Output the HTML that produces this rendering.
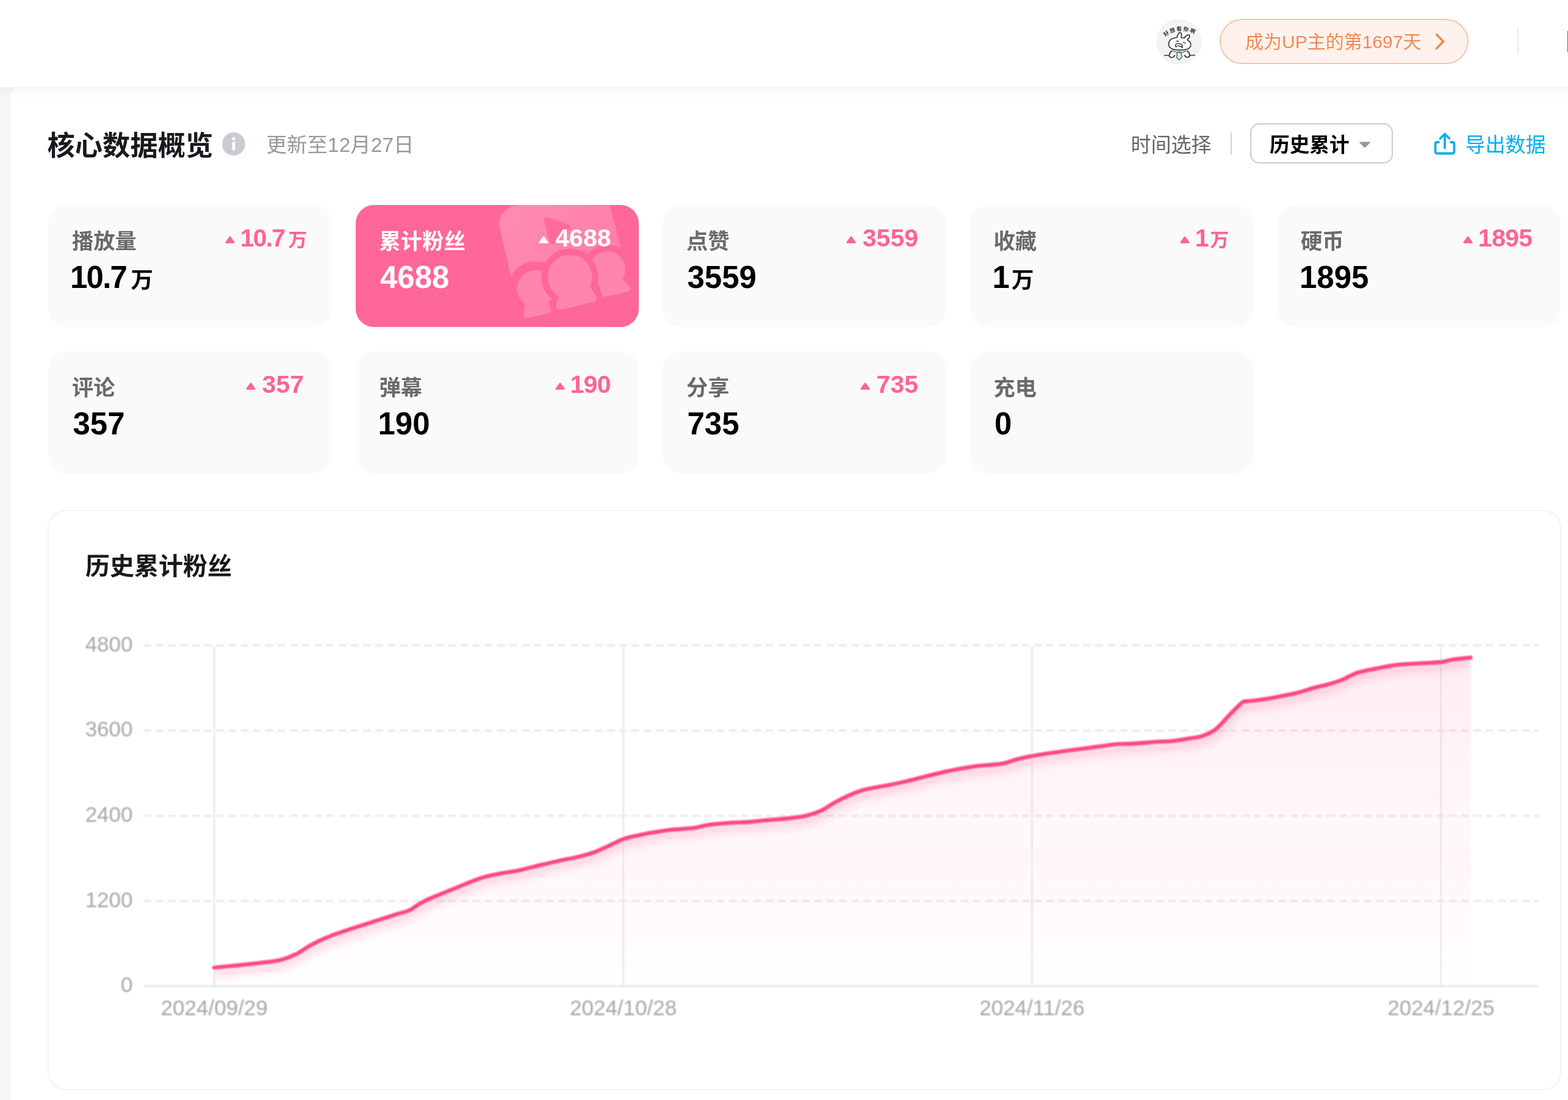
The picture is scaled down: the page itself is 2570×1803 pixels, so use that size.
<!DOCTYPE html>
<html lang="zh-CN"><head><meta charset="utf-8"><title>核心数据概览</title>
<style>
*{margin:0;padding:0;box-sizing:border-box}
html,body{width:2570px;height:1803px;overflow:hidden;background:#f6f7f8}
body{position:relative;font-family:"Liberation Sans","Noto Sans CJK SC",sans-serif;-webkit-font-smoothing:antialiased}
.abs{position:absolute}
#hdr{position:absolute;left:0;top:0;width:2570px;height:143px;background:#fff}
#main{position:absolute;left:18px;top:143px;width:2552px;height:1660px;background:#fff;border-top-left-radius:12px}
#shadow{position:absolute;left:0;top:143px;width:2570px;height:24px;background:linear-gradient(to bottom,rgba(0,0,0,0.035),rgba(0,0,0,0.012) 45%,rgba(0,0,0,0))}
.t{position:absolute;white-space:nowrap;line-height:1}
#pill{position:absolute;left:1999px;top:31px;width:408px;height:74px;border:2.5px solid #f6c2ad;border-radius:37px;background:#fff2ed}
.card{position:absolute;width:464.5px;height:200px;border-radius:30px;background:#fafafa;overflow:hidden}
.card.act{background:#ff6699}
.card .deco{position:absolute;left:0;top:0}
.card .lab{position:absolute;left:39px;top:39.6px;font-size:35.3px;line-height:40px;font-weight:bold;color:#6a6a6a;white-space:nowrap}
.card .val{position:absolute;left:37px;top:88.5px;line-height:60px;white-space:nowrap;color:#000;font-weight:bold}
.card .vn{font-size:51px}
.card .u{font-size:36.5px;margin-left:3px;position:relative;top:0.5px}
.card .inc{position:absolute;right:41px;top:32px;line-height:44px;white-space:nowrap;color:#ff6297;font-weight:bold}
.card .in{font-size:41px}
.card .iu{font-size:31px;margin-left:3px;position:relative;top:-0.5px}
.card .tri{display:inline-block;vertical-align:5px;overflow:visible}
.card.act .lab,.card.act .val,.card.act .inc{color:#fff}

#chart{position:absolute;left:78px;top:835.5px;width:2481px;height:951.5px;border:2.5px solid #f1f2f3;border-radius:30px;background:#fff}
svg text.ax{font-family:"Liberation Sans",sans-serif;font-size:35px;fill:#a6a6a6}
</style></head><body>
<div id="hdr"></div>
<div id="main"></div>
<div id="shadow"></div>

<svg class="abs" style="left:1894px;top:30px" width="77" height="77" viewBox="0 0 77 77">
<defs><filter id="avb" x="-10%" y="-10%" width="120%" height="120%"><feGaussianBlur stdDeviation="0.45"/></filter></defs>
<circle cx="38.3" cy="38.5" r="37.3" fill="#f3f3f3"/>
<g filter="url(#avb)">
<path id="arc" d="M14 31.5 Q38 11.5 67 27.5" fill="none"/>
<text font-size="8.8" font-weight="bold" fill="#2b2b2b" font-family='Liberation Sans, Noto Sans CJK SC, sans-serif' letter-spacing="1.8"><textPath href="#arc" startOffset="50%" text-anchor="middle">好想看你啊</textPath></text>
<g fill="none" stroke="#333" stroke-width="1.7" stroke-linecap="round" stroke-linejoin="round">
<path d="M21.5 43 C21 36 27 32.5 35 31.5 C36 27 38.5 22.5 41 23.5 C43.5 24.5 42.5 29 42 31.5 C43.5 32 45.5 32.3 47 32.5 C49 29.5 53.5 26 55.3 27.5 C57 29.5 54 33.5 52 35.5 C57 38 58.5 42 57.5 45.5 C56 50.5 50 52 40 52 C29 52 22 50 21.5 43Z" fill="#fff"/>
<path d="M34.5 37.2 L38 37.6 M45.5 39.3 L49 40.8" stroke-width="1.4"/>
<path d="M32.5 45.5 C32.3 41.5 36 40.5 38.6 42.2 C40.5 41 43.8 42 44.2 46.5 C44.3 48.5 43 49 42.5 47.3 C42 45.2 40.6 44.7 39.6 46.3 C38.5 44.6 36 44.3 34.6 46.3 C33.6 47.3 32.6 47 32.5 45.5Z" stroke-width="1.4"/>
<path d="M27 53 C23.5 55.5 21.5 60 23 63 C26 65.5 30.5 64 31.5 60.5 M52 53.5 C55 56 56.5 59.5 55.5 62.5 C52.5 65 48.5 63.5 47.5 60.5"/>
<path d="M14.5 60.8 L22 60.8 M56.5 60.8 L64.5 60.5" stroke-width="1.4"/>
</g>
<path d="M35.5 55.8 L41.5 55.8 L43 64 L38.5 68.2 L34.5 64Z" fill="#dcf1e7" stroke="#4c6b5c" stroke-width="1.5" stroke-linejoin="round"/>
<path d="M29 53.3 L36 56.3 L38.5 54.3 M50 53.5 L42.5 56.5 L39 54.3" fill="none" stroke="#5b7b6b" stroke-width="1.5" stroke-linejoin="round" stroke-linecap="round"/>
</g>
</svg>

<div id="pill"></div>
<div class="t" id="pilltxt" style="left:2041px;top:52px;font-size:30px;line-height:34px;color:#f08a58">成为UP主的第1697天</div>
<svg class="abs" style="left:2345px;top:48px" width="30" height="40" viewBox="0 0 30 40"><path d="M8.5 7.5 L20.5 20 L8.5 32.5" fill="none" stroke="#ee8853" stroke-width="3.6" stroke-linejoin="miter"/></svg>
<div class="abs" style="left:2487px;top:46px;width:2px;height:43px;background:#e9eaec"></div>
<div class="abs" style="left:2568.5px;top:50px;width:2px;height:36px;background:#666;border-radius:2px 0 0 2px"></div>

<div class="t" id="title" style="left:77.5px;top:212.5px;font-size:45.3px;line-height:54px;font-weight:bold;color:#18191c">核心数据概览</div>
<svg class="abs" style="left:363px;top:216px" width="40" height="40" viewBox="0 0 40 40"><circle cx="20" cy="20" r="19" fill="#c9ccd0"/><circle cx="20" cy="11.5" r="2.7" fill="#fff"/><rect x="17.6" y="16.5" width="4.8" height="14" rx="1.2" fill="#fff"/></svg>
<div class="t" id="upd" style="left:436.5px;top:217.5px;font-size:33.5px;line-height:40px;color:#9499a0">更新至12月27日</div>

<div class="t" id="tsel" style="left:1853.5px;top:217.5px;font-size:33px;line-height:40px;color:#61666d">时间选择</div>
<div class="abs" style="left:2017.3px;top:217px;width:2px;height:37px;background:#d3d5d9"></div>
<div class="abs" style="left:2048.7px;top:201.8px;width:234.3px;height:66.7px;border:2.5px solid #c9ccd0;border-radius:15px;background:#fff"></div>
<div class="t" id="sel" style="left:2081px;top:218px;font-size:32.7px;line-height:40px;font-weight:bold;color:#000">历史累计</div>
<svg class="abs" style="left:2226px;top:229px" width="22" height="16" viewBox="0 0 22 16"><path d="M3 3.5 L19 3.5 Q20.5 3.5 19.5 5 L12.3 12.3 Q11 13.6 9.7 12.3 L2.5 5 Q1.5 3.5 3 3.5Z" fill="#9499a0"/></svg>
<svg class="abs" style="left:2347px;top:213.8px" width="42" height="44" viewBox="0 0 42 44"><g fill="none" stroke="#0fade9" stroke-width="3.8" stroke-linecap="round" stroke-linejoin="round"><path d="M11 19 L9 19 Q5.5 19 5.5 22.5 L5.5 34 Q5.5 37.5 9 37.5 L33 37.5 Q36.5 37.5 36.5 34 L36.5 22.5 Q36.5 19 33 19 L31 19"/><path d="M21 28.5 L21 6.5 M13.5 13 L21 5.5 L28.5 13"/></g></svg>
<div class="t" id="exp" style="left:2401.5px;top:218px;font-size:33px;line-height:40px;color:#00aeec">导出数据</div>

<div class="card" style="left:79.0px;top:336px"><div class="lab">播放量</div><div class="val" style="left:36.0px"><span class="vn" style="letter-spacing:-1.8px">10.7</span><span class="u" style="margin-left:7.5px">万</span></div><div class="inc" style="right:40.0px"><svg class="tri" style="margin-right:8.7px" width="16" height="12" viewBox="0 0 16 12"><path d="M8 1.5 L14.4 10.5 L1.6 10.5Z" fill="currentColor" stroke="currentColor" stroke-width="2.6" stroke-linejoin="round"/></svg><span class="in" style="letter-spacing:-1.83px">10.7</span><span class="iu" style="margin-left:6.3px">万</span></div></div>
<div class="card act" style="left:582.5px;top:336px"><svg class="deco" width="465" height="200" viewBox="0 0 465 200">
<defs><linearGradient id="dg" x1="240" y1="0" x2="430" y2="110" gradientUnits="userSpaceOnUse"><stop offset="0" stop-color="#ff8ab0"/><stop offset="1" stop-color="#ff7fa9"/></linearGradient></defs>
<path d="M254 116 L236.5 40 Q230 9 263 0 L416 0 L434 66 L415 100 L351 113 L290 136Z" fill="url(#dg)"/>
<path d="M315 20.5 L348 32 Q354.5 35 350.5 40.5 L326 63 Q320 67 318 60 L309 27 Q307.5 18.5 315 20.5Z" fill="#ff6a9c"/>
<g fill="#ff6699" stroke="#ff6699" stroke-width="26" stroke-linejoin="round"><circle cx="294.9" cy="137.2" r="32"/><path d="M278 163 L275.5 176 Q274.5 186 283 185 L316 177 Q322 175 321 169 L315 158Z"/></g>
<g fill="#ff85ad"><circle cx="294.9" cy="137.2" r="30.5"/><path d="M278 161 L275.5 176 Q274.5 187 283 185.3 L316 177 Q322 175 321 169 L315 158Z"/></g>
<g fill="#ff6699" stroke="#ff6699" stroke-width="18" stroke-linejoin="round"><circle cx="412" cy="105.8" r="31.5"/></g>
<g fill="#ff85ad"><circle cx="412" cy="105.8" r="29.8"/><path d="M400 130 L401 145 Q402 152 409 150.8 L446 142 Q452.5 140 450 135.5 L438.5 122Z"/></g>
<g fill="#ff6699" stroke="#ff6699" stroke-width="20" stroke-linejoin="round"><circle cx="351" cy="118" r="36.5"/><path d="M333 150 L328.8 162 Q327 172.5 336 172 L390 159 Q397 156.5 395 150.5 L385 136Z"/></g>
<g fill="#ff85ad"><circle cx="351" cy="118" r="36.5"/><path d="M333 150 L328.8 162 Q327 172.5 336 172 L390 159 Q397 156.5 395 150.5 L385 136Z"/></g>
</svg><div class="lab">累计粉丝</div><div class="val" style="left:40.5px"><span class="vn" style="letter-spacing:0.0px">4688</span></div><div class="inc" style="right:45.5px"><svg class="tri" style="margin-right:11.0px" width="16" height="12" viewBox="0 0 16 12"><path d="M8 1.5 L14.4 10.5 L1.6 10.5Z" fill="currentColor" stroke="currentColor" stroke-width="2.6" stroke-linejoin="round"/></svg><span class="in" style="letter-spacing:0.00px">4688</span></div></div>
<div class="card" style="left:1086.0px;top:336px"><div class="lab">点赞</div><div class="val" style="left:40.5px"><span class="vn" style="letter-spacing:0.0px">3559</span></div><div class="inc" style="right:45.5px"><svg class="tri" style="margin-right:11.0px" width="16" height="12" viewBox="0 0 16 12"><path d="M8 1.5 L14.4 10.5 L1.6 10.5Z" fill="currentColor" stroke="currentColor" stroke-width="2.6" stroke-linejoin="round"/></svg><span class="in" style="letter-spacing:0.00px">3559</span></div></div>
<div class="card" style="left:1589.5px;top:336px"><div class="lab">收藏</div><div class="val" style="left:37.0px"><span class="vn" style="letter-spacing:0.0px">1</span><span class="u">万</span></div><div class="inc" style="right:39.7px"><svg class="tri" style="margin-right:8.4px" width="16" height="12" viewBox="0 0 16 12"><path d="M8 1.5 L14.4 10.5 L1.6 10.5Z" fill="currentColor" stroke="currentColor" stroke-width="2.6" stroke-linejoin="round"/></svg><span class="in" style="letter-spacing:0.00px">1</span><span class="iu" style="margin-left:1.7px">万</span></div></div>
<div class="card" style="left:2093.0px;top:336px"><div class="lab">硬币</div><div class="val" style="left:37.0px"><span class="vn" style="letter-spacing:0.0px">1895</span></div><div class="inc" style="right:46.0px"><svg class="tri" style="margin-right:8.5px" width="16" height="12" viewBox="0 0 16 12"><path d="M8 1.5 L14.4 10.5 L1.6 10.5Z" fill="currentColor" stroke="currentColor" stroke-width="2.6" stroke-linejoin="round"/></svg><span class="in" style="letter-spacing:-0.60px">1895</span></div></div>
<div class="card" style="left:79.0px;top:576px"><div class="lab">评论</div><div class="val" style="left:40.5px"><span class="vn" style="letter-spacing:0.0px">357</span></div><div class="inc" style="right:45.5px"><svg class="tri" style="margin-right:11.0px" width="16" height="12" viewBox="0 0 16 12"><path d="M8 1.5 L14.4 10.5 L1.6 10.5Z" fill="currentColor" stroke="currentColor" stroke-width="2.6" stroke-linejoin="round"/></svg><span class="in" style="letter-spacing:0.00px">357</span></div></div>
<div class="card" style="left:582.5px;top:576px"><div class="lab">弹幕</div><div class="val" style="left:37.0px"><span class="vn" style="letter-spacing:0.0px">190</span></div><div class="inc" style="right:46.0px"><svg class="tri" style="margin-right:8.5px" width="16" height="12" viewBox="0 0 16 12"><path d="M8 1.5 L14.4 10.5 L1.6 10.5Z" fill="currentColor" stroke="currentColor" stroke-width="2.6" stroke-linejoin="round"/></svg><span class="in" style="letter-spacing:-0.60px">190</span></div></div>
<div class="card" style="left:1086.0px;top:576px"><div class="lab">分享</div><div class="val" style="left:40.5px"><span class="vn" style="letter-spacing:0.0px">735</span></div><div class="inc" style="right:45.5px"><svg class="tri" style="margin-right:11.0px" width="16" height="12" viewBox="0 0 16 12"><path d="M8 1.5 L14.4 10.5 L1.6 10.5Z" fill="currentColor" stroke="currentColor" stroke-width="2.6" stroke-linejoin="round"/></svg><span class="in" style="letter-spacing:0.00px">735</span></div></div>
<div class="card" style="left:1589.5px;top:576px"><div class="lab">充电</div><div class="val" style="left:40.5px"><span class="vn" style="letter-spacing:0.0px">0</span></div></div>


<div id="chart"></div>
<div class="t" id="ctitle" style="left:140px;top:904px;font-size:40px;line-height:48px;font-weight:bold;color:#18191c">历史累计粉丝</div>
<svg class="abs" style="left:0;top:0" width="2570" height="1803" viewBox="0 0 2570 1803">
<defs>
<linearGradient id="ag" x1="0" y1="1060" x2="0" y2="1616" gradientUnits="userSpaceOnUse"><stop offset="0" stop-color="#ff4785" stop-opacity="0.095"/><stop offset="1" stop-color="#ff4785" stop-opacity="0.0"/></linearGradient>
<filter id="bl" x="-5%" y="-20%" width="110%" height="140%"><feGaussianBlur stdDeviation="7"/></filter>
<filter id="soft" x="-5%" y="-5%" width="110%" height="110%"><feGaussianBlur stdDeviation="0.9"/></filter>
<filter id="soft2" filterUnits="userSpaceOnUse" x="200" y="1040" width="2360" height="460"><feGaussianBlur stdDeviation="1.3"/></filter>
<clipPath id="ac"><path d="M351.0 1586.0C358.1 1585.3 376.2 1583.7 391.5 1582.1C406.8 1580.5 426.2 1578.4 438.5 1576.8C450.8 1575.2 453.8 1575.2 462.0 1572.9C470.2 1570.6 477.3 1567.9 485.5 1563.8C493.7 1559.7 500.3 1554.1 509.0 1549.4C517.7 1544.7 526.0 1540.7 535.2 1536.8C544.4 1532.9 547.6 1531.9 561.3 1527.2C575.0 1522.5 597.6 1515.4 613.6 1510.2C629.6 1505.0 642.8 1500.9 652.8 1497.7C662.8 1494.5 663.2 1495.7 671.0 1491.9C678.8 1488.1 684.4 1482.4 697.2 1476.2C710.0 1470.0 728.2 1463.1 744.2 1456.6C760.2 1450.1 774.9 1443.5 788.6 1439.1C802.3 1434.7 814.4 1433.0 822.6 1431.3C830.8 1429.6 830.9 1430.0 835.7 1429.2C840.5 1428.4 842.0 1428.6 850.0 1426.8C858.0 1425.0 870.0 1421.7 881.4 1419.0C892.8 1416.3 903.9 1413.6 915.3 1411.1C926.7 1408.6 936.2 1407.2 946.7 1404.6C957.2 1402.0 966.7 1399.4 975.4 1396.3C984.1 1393.2 988.2 1390.8 996.3 1387.1C1004.4 1383.4 1013.0 1378.4 1021.7 1375.3C1030.4 1372.2 1037.2 1371.3 1046.0 1369.3C1054.8 1367.3 1062.9 1365.7 1072.0 1364.1C1081.1 1362.5 1086.8 1361.4 1098.2 1360.2C1109.6 1359.0 1126.9 1358.5 1137.4 1357.1C1147.9 1355.7 1149.1 1353.8 1158.3 1352.4C1167.5 1351.0 1177.3 1350.1 1189.7 1349.2C1202.1 1348.3 1217.5 1347.9 1228.9 1347.1C1240.3 1346.3 1243.6 1345.5 1255.0 1344.5C1266.4 1343.5 1282.8 1342.4 1294.2 1341.1C1305.6 1339.8 1311.6 1339.2 1320.3 1337.2C1329.0 1335.2 1335.7 1333.3 1343.9 1329.6C1352.1 1325.9 1359.2 1320.3 1367.4 1315.8C1375.6 1311.3 1382.2 1307.8 1390.9 1304.0C1399.6 1300.2 1406.3 1297.2 1417.0 1294.3C1427.7 1291.4 1440.6 1289.9 1452.3 1287.6C1464.0 1285.3 1472.2 1283.7 1483.6 1281.1C1495.0 1278.5 1504.8 1275.6 1517.6 1272.5C1530.4 1269.4 1543.1 1266.1 1556.8 1263.3C1570.5 1260.5 1584.6 1258.0 1596.0 1256.3C1607.4 1254.6 1613.9 1254.5 1622.1 1253.7C1630.3 1252.9 1634.8 1253.3 1643.0 1251.6C1651.2 1249.9 1660.6 1246.2 1669.1 1244.0C1677.6 1241.8 1683.6 1240.8 1691.4 1239.3C1699.2 1237.8 1700.6 1237.3 1713.6 1235.4C1726.6 1233.5 1749.8 1230.5 1765.8 1228.3C1781.8 1226.1 1794.0 1224.6 1805.0 1223.1C1816.0 1221.6 1819.3 1220.4 1828.5 1219.7C1837.7 1219.0 1845.4 1219.6 1857.3 1218.9C1869.2 1218.2 1885.1 1216.6 1896.5 1215.8C1907.9 1215.0 1913.5 1215.4 1922.6 1214.5C1931.7 1213.6 1940.5 1211.9 1948.7 1210.5C1956.9 1209.1 1962.0 1209.2 1969.6 1206.6C1977.2 1204.0 1984.0 1201.8 1991.9 1195.8C1999.8 1189.8 2008.0 1179.3 2014.8 1172.3C2021.6 1165.3 2027.0 1159.8 2031.0 1156.0C2035.0 1152.2 2035.2 1151.6 2037.5 1150.4C2039.8 1149.2 2040.4 1149.8 2044.0 1149.4C2047.6 1149.0 2050.8 1149.0 2058.0 1148.0C2065.2 1147.0 2073.2 1146.0 2085.0 1143.9C2096.8 1141.8 2113.7 1138.6 2125.5 1135.8C2137.3 1133.0 2143.1 1130.3 2152.5 1127.7C2161.9 1125.1 2171.0 1123.5 2179.5 1121.0C2188.0 1118.5 2193.5 1116.8 2201.1 1113.7C2208.7 1110.6 2214.7 1106.2 2222.7 1103.4C2230.7 1100.6 2235.6 1099.9 2247.0 1097.5C2258.4 1095.1 2273.4 1091.7 2287.6 1089.9C2301.8 1088.1 2315.0 1088.0 2328.0 1087.2C2341.0 1086.4 2352.4 1086.2 2361.8 1085.1C2371.2 1084.0 2373.5 1082.3 2382.0 1081.0C2390.5 1079.7 2405.4 1078.4 2410.4 1077.8L2410.4 1616L351.0 1616Z"/></clipPath>
</defs>
<g filter="url(#soft2)">
<line x1="235" x2="2522" y1="1057.8" y2="1057.8" stroke="#e7e7e7" stroke-width="3" stroke-dasharray="12.5 7.5"/><line x1="235" x2="2522" y1="1197.5" y2="1197.5" stroke="#e7e7e7" stroke-width="3" stroke-dasharray="12.5 7.5"/><line x1="235" x2="2522" y1="1337.2" y2="1337.2" stroke="#e7e7e7" stroke-width="3" stroke-dasharray="12.5 7.5"/><line x1="235" x2="2522" y1="1476.8" y2="1476.8" stroke="#e7e7e7" stroke-width="3" stroke-dasharray="12.5 7.5"/>
</g>
<g filter="url(#soft)">
<line x1="351.2" x2="351.2" y1="1059" y2="1616" stroke="#e6e6e6" stroke-width="2.5"/><line x1="1021.6" x2="1021.6" y1="1059" y2="1616" stroke="#e6e6e6" stroke-width="2.5"/><line x1="1691.5" x2="1691.5" y1="1059" y2="1616" stroke="#e6e6e6" stroke-width="2.5"/><line x1="2361.8" x2="2361.8" y1="1059" y2="1616" stroke="#e6e6e6" stroke-width="2.5"/>
<line x1="237" x2="2522" y1="1616.2" y2="1616.2" stroke="#e0e0e0" stroke-width="2.5"/>
<path d="M351.0 1586.0C358.1 1585.3 376.2 1583.7 391.5 1582.1C406.8 1580.5 426.2 1578.4 438.5 1576.8C450.8 1575.2 453.8 1575.2 462.0 1572.9C470.2 1570.6 477.3 1567.9 485.5 1563.8C493.7 1559.7 500.3 1554.1 509.0 1549.4C517.7 1544.7 526.0 1540.7 535.2 1536.8C544.4 1532.9 547.6 1531.9 561.3 1527.2C575.0 1522.5 597.6 1515.4 613.6 1510.2C629.6 1505.0 642.8 1500.9 652.8 1497.7C662.8 1494.5 663.2 1495.7 671.0 1491.9C678.8 1488.1 684.4 1482.4 697.2 1476.2C710.0 1470.0 728.2 1463.1 744.2 1456.6C760.2 1450.1 774.9 1443.5 788.6 1439.1C802.3 1434.7 814.4 1433.0 822.6 1431.3C830.8 1429.6 830.9 1430.0 835.7 1429.2C840.5 1428.4 842.0 1428.6 850.0 1426.8C858.0 1425.0 870.0 1421.7 881.4 1419.0C892.8 1416.3 903.9 1413.6 915.3 1411.1C926.7 1408.6 936.2 1407.2 946.7 1404.6C957.2 1402.0 966.7 1399.4 975.4 1396.3C984.1 1393.2 988.2 1390.8 996.3 1387.1C1004.4 1383.4 1013.0 1378.4 1021.7 1375.3C1030.4 1372.2 1037.2 1371.3 1046.0 1369.3C1054.8 1367.3 1062.9 1365.7 1072.0 1364.1C1081.1 1362.5 1086.8 1361.4 1098.2 1360.2C1109.6 1359.0 1126.9 1358.5 1137.4 1357.1C1147.9 1355.7 1149.1 1353.8 1158.3 1352.4C1167.5 1351.0 1177.3 1350.1 1189.7 1349.2C1202.1 1348.3 1217.5 1347.9 1228.9 1347.1C1240.3 1346.3 1243.6 1345.5 1255.0 1344.5C1266.4 1343.5 1282.8 1342.4 1294.2 1341.1C1305.6 1339.8 1311.6 1339.2 1320.3 1337.2C1329.0 1335.2 1335.7 1333.3 1343.9 1329.6C1352.1 1325.9 1359.2 1320.3 1367.4 1315.8C1375.6 1311.3 1382.2 1307.8 1390.9 1304.0C1399.6 1300.2 1406.3 1297.2 1417.0 1294.3C1427.7 1291.4 1440.6 1289.9 1452.3 1287.6C1464.0 1285.3 1472.2 1283.7 1483.6 1281.1C1495.0 1278.5 1504.8 1275.6 1517.6 1272.5C1530.4 1269.4 1543.1 1266.1 1556.8 1263.3C1570.5 1260.5 1584.6 1258.0 1596.0 1256.3C1607.4 1254.6 1613.9 1254.5 1622.1 1253.7C1630.3 1252.9 1634.8 1253.3 1643.0 1251.6C1651.2 1249.9 1660.6 1246.2 1669.1 1244.0C1677.6 1241.8 1683.6 1240.8 1691.4 1239.3C1699.2 1237.8 1700.6 1237.3 1713.6 1235.4C1726.6 1233.5 1749.8 1230.5 1765.8 1228.3C1781.8 1226.1 1794.0 1224.6 1805.0 1223.1C1816.0 1221.6 1819.3 1220.4 1828.5 1219.7C1837.7 1219.0 1845.4 1219.6 1857.3 1218.9C1869.2 1218.2 1885.1 1216.6 1896.5 1215.8C1907.9 1215.0 1913.5 1215.4 1922.6 1214.5C1931.7 1213.6 1940.5 1211.9 1948.7 1210.5C1956.9 1209.1 1962.0 1209.2 1969.6 1206.6C1977.2 1204.0 1984.0 1201.8 1991.9 1195.8C1999.8 1189.8 2008.0 1179.3 2014.8 1172.3C2021.6 1165.3 2027.0 1159.8 2031.0 1156.0C2035.0 1152.2 2035.2 1151.6 2037.5 1150.4C2039.8 1149.2 2040.4 1149.8 2044.0 1149.4C2047.6 1149.0 2050.8 1149.0 2058.0 1148.0C2065.2 1147.0 2073.2 1146.0 2085.0 1143.9C2096.8 1141.8 2113.7 1138.6 2125.5 1135.8C2137.3 1133.0 2143.1 1130.3 2152.5 1127.7C2161.9 1125.1 2171.0 1123.5 2179.5 1121.0C2188.0 1118.5 2193.5 1116.8 2201.1 1113.7C2208.7 1110.6 2214.7 1106.2 2222.7 1103.4C2230.7 1100.6 2235.6 1099.9 2247.0 1097.5C2258.4 1095.1 2273.4 1091.7 2287.6 1089.9C2301.8 1088.1 2315.0 1088.0 2328.0 1087.2C2341.0 1086.4 2352.4 1086.2 2361.8 1085.1C2371.2 1084.0 2373.5 1082.3 2382.0 1081.0C2390.5 1079.7 2405.4 1078.4 2410.4 1077.8L2410.4 1616L351.0 1616Z" fill="url(#ag)"/>
<g clip-path="url(#ac)"><path d="M351.0 1586.0C358.1 1585.3 376.2 1583.7 391.5 1582.1C406.8 1580.5 426.2 1578.4 438.5 1576.8C450.8 1575.2 453.8 1575.2 462.0 1572.9C470.2 1570.6 477.3 1567.9 485.5 1563.8C493.7 1559.7 500.3 1554.1 509.0 1549.4C517.7 1544.7 526.0 1540.7 535.2 1536.8C544.4 1532.9 547.6 1531.9 561.3 1527.2C575.0 1522.5 597.6 1515.4 613.6 1510.2C629.6 1505.0 642.8 1500.9 652.8 1497.7C662.8 1494.5 663.2 1495.7 671.0 1491.9C678.8 1488.1 684.4 1482.4 697.2 1476.2C710.0 1470.0 728.2 1463.1 744.2 1456.6C760.2 1450.1 774.9 1443.5 788.6 1439.1C802.3 1434.7 814.4 1433.0 822.6 1431.3C830.8 1429.6 830.9 1430.0 835.7 1429.2C840.5 1428.4 842.0 1428.6 850.0 1426.8C858.0 1425.0 870.0 1421.7 881.4 1419.0C892.8 1416.3 903.9 1413.6 915.3 1411.1C926.7 1408.6 936.2 1407.2 946.7 1404.6C957.2 1402.0 966.7 1399.4 975.4 1396.3C984.1 1393.2 988.2 1390.8 996.3 1387.1C1004.4 1383.4 1013.0 1378.4 1021.7 1375.3C1030.4 1372.2 1037.2 1371.3 1046.0 1369.3C1054.8 1367.3 1062.9 1365.7 1072.0 1364.1C1081.1 1362.5 1086.8 1361.4 1098.2 1360.2C1109.6 1359.0 1126.9 1358.5 1137.4 1357.1C1147.9 1355.7 1149.1 1353.8 1158.3 1352.4C1167.5 1351.0 1177.3 1350.1 1189.7 1349.2C1202.1 1348.3 1217.5 1347.9 1228.9 1347.1C1240.3 1346.3 1243.6 1345.5 1255.0 1344.5C1266.4 1343.5 1282.8 1342.4 1294.2 1341.1C1305.6 1339.8 1311.6 1339.2 1320.3 1337.2C1329.0 1335.2 1335.7 1333.3 1343.9 1329.6C1352.1 1325.9 1359.2 1320.3 1367.4 1315.8C1375.6 1311.3 1382.2 1307.8 1390.9 1304.0C1399.6 1300.2 1406.3 1297.2 1417.0 1294.3C1427.7 1291.4 1440.6 1289.9 1452.3 1287.6C1464.0 1285.3 1472.2 1283.7 1483.6 1281.1C1495.0 1278.5 1504.8 1275.6 1517.6 1272.5C1530.4 1269.4 1543.1 1266.1 1556.8 1263.3C1570.5 1260.5 1584.6 1258.0 1596.0 1256.3C1607.4 1254.6 1613.9 1254.5 1622.1 1253.7C1630.3 1252.9 1634.8 1253.3 1643.0 1251.6C1651.2 1249.9 1660.6 1246.2 1669.1 1244.0C1677.6 1241.8 1683.6 1240.8 1691.4 1239.3C1699.2 1237.8 1700.6 1237.3 1713.6 1235.4C1726.6 1233.5 1749.8 1230.5 1765.8 1228.3C1781.8 1226.1 1794.0 1224.6 1805.0 1223.1C1816.0 1221.6 1819.3 1220.4 1828.5 1219.7C1837.7 1219.0 1845.4 1219.6 1857.3 1218.9C1869.2 1218.2 1885.1 1216.6 1896.5 1215.8C1907.9 1215.0 1913.5 1215.4 1922.6 1214.5C1931.7 1213.6 1940.5 1211.9 1948.7 1210.5C1956.9 1209.1 1962.0 1209.2 1969.6 1206.6C1977.2 1204.0 1984.0 1201.8 1991.9 1195.8C1999.8 1189.8 2008.0 1179.3 2014.8 1172.3C2021.6 1165.3 2027.0 1159.8 2031.0 1156.0C2035.0 1152.2 2035.2 1151.6 2037.5 1150.4C2039.8 1149.2 2040.4 1149.8 2044.0 1149.4C2047.6 1149.0 2050.8 1149.0 2058.0 1148.0C2065.2 1147.0 2073.2 1146.0 2085.0 1143.9C2096.8 1141.8 2113.7 1138.6 2125.5 1135.8C2137.3 1133.0 2143.1 1130.3 2152.5 1127.7C2161.9 1125.1 2171.0 1123.5 2179.5 1121.0C2188.0 1118.5 2193.5 1116.8 2201.1 1113.7C2208.7 1110.6 2214.7 1106.2 2222.7 1103.4C2230.7 1100.6 2235.6 1099.9 2247.0 1097.5C2258.4 1095.1 2273.4 1091.7 2287.6 1089.9C2301.8 1088.1 2315.0 1088.0 2328.0 1087.2C2341.0 1086.4 2352.4 1086.2 2361.8 1085.1C2371.2 1084.0 2373.5 1082.3 2382.0 1081.0C2390.5 1079.7 2405.4 1078.4 2410.4 1077.8" fill="none" stroke="#ff4785" stroke-opacity="0.3" stroke-width="9" transform="translate(0,9)" filter="url(#bl)"/></g>
<path d="M351.0 1586.0C358.1 1585.3 376.2 1583.7 391.5 1582.1C406.8 1580.5 426.2 1578.4 438.5 1576.8C450.8 1575.2 453.8 1575.2 462.0 1572.9C470.2 1570.6 477.3 1567.9 485.5 1563.8C493.7 1559.7 500.3 1554.1 509.0 1549.4C517.7 1544.7 526.0 1540.7 535.2 1536.8C544.4 1532.9 547.6 1531.9 561.3 1527.2C575.0 1522.5 597.6 1515.4 613.6 1510.2C629.6 1505.0 642.8 1500.9 652.8 1497.7C662.8 1494.5 663.2 1495.7 671.0 1491.9C678.8 1488.1 684.4 1482.4 697.2 1476.2C710.0 1470.0 728.2 1463.1 744.2 1456.6C760.2 1450.1 774.9 1443.5 788.6 1439.1C802.3 1434.7 814.4 1433.0 822.6 1431.3C830.8 1429.6 830.9 1430.0 835.7 1429.2C840.5 1428.4 842.0 1428.6 850.0 1426.8C858.0 1425.0 870.0 1421.7 881.4 1419.0C892.8 1416.3 903.9 1413.6 915.3 1411.1C926.7 1408.6 936.2 1407.2 946.7 1404.6C957.2 1402.0 966.7 1399.4 975.4 1396.3C984.1 1393.2 988.2 1390.8 996.3 1387.1C1004.4 1383.4 1013.0 1378.4 1021.7 1375.3C1030.4 1372.2 1037.2 1371.3 1046.0 1369.3C1054.8 1367.3 1062.9 1365.7 1072.0 1364.1C1081.1 1362.5 1086.8 1361.4 1098.2 1360.2C1109.6 1359.0 1126.9 1358.5 1137.4 1357.1C1147.9 1355.7 1149.1 1353.8 1158.3 1352.4C1167.5 1351.0 1177.3 1350.1 1189.7 1349.2C1202.1 1348.3 1217.5 1347.9 1228.9 1347.1C1240.3 1346.3 1243.6 1345.5 1255.0 1344.5C1266.4 1343.5 1282.8 1342.4 1294.2 1341.1C1305.6 1339.8 1311.6 1339.2 1320.3 1337.2C1329.0 1335.2 1335.7 1333.3 1343.9 1329.6C1352.1 1325.9 1359.2 1320.3 1367.4 1315.8C1375.6 1311.3 1382.2 1307.8 1390.9 1304.0C1399.6 1300.2 1406.3 1297.2 1417.0 1294.3C1427.7 1291.4 1440.6 1289.9 1452.3 1287.6C1464.0 1285.3 1472.2 1283.7 1483.6 1281.1C1495.0 1278.5 1504.8 1275.6 1517.6 1272.5C1530.4 1269.4 1543.1 1266.1 1556.8 1263.3C1570.5 1260.5 1584.6 1258.0 1596.0 1256.3C1607.4 1254.6 1613.9 1254.5 1622.1 1253.7C1630.3 1252.9 1634.8 1253.3 1643.0 1251.6C1651.2 1249.9 1660.6 1246.2 1669.1 1244.0C1677.6 1241.8 1683.6 1240.8 1691.4 1239.3C1699.2 1237.8 1700.6 1237.3 1713.6 1235.4C1726.6 1233.5 1749.8 1230.5 1765.8 1228.3C1781.8 1226.1 1794.0 1224.6 1805.0 1223.1C1816.0 1221.6 1819.3 1220.4 1828.5 1219.7C1837.7 1219.0 1845.4 1219.6 1857.3 1218.9C1869.2 1218.2 1885.1 1216.6 1896.5 1215.8C1907.9 1215.0 1913.5 1215.4 1922.6 1214.5C1931.7 1213.6 1940.5 1211.9 1948.7 1210.5C1956.9 1209.1 1962.0 1209.2 1969.6 1206.6C1977.2 1204.0 1984.0 1201.8 1991.9 1195.8C1999.8 1189.8 2008.0 1179.3 2014.8 1172.3C2021.6 1165.3 2027.0 1159.8 2031.0 1156.0C2035.0 1152.2 2035.2 1151.6 2037.5 1150.4C2039.8 1149.2 2040.4 1149.8 2044.0 1149.4C2047.6 1149.0 2050.8 1149.0 2058.0 1148.0C2065.2 1147.0 2073.2 1146.0 2085.0 1143.9C2096.8 1141.8 2113.7 1138.6 2125.5 1135.8C2137.3 1133.0 2143.1 1130.3 2152.5 1127.7C2161.9 1125.1 2171.0 1123.5 2179.5 1121.0C2188.0 1118.5 2193.5 1116.8 2201.1 1113.7C2208.7 1110.6 2214.7 1106.2 2222.7 1103.4C2230.7 1100.6 2235.6 1099.9 2247.0 1097.5C2258.4 1095.1 2273.4 1091.7 2287.6 1089.9C2301.8 1088.1 2315.0 1088.0 2328.0 1087.2C2341.0 1086.4 2352.4 1086.2 2361.8 1085.1C2371.2 1084.0 2373.5 1082.3 2382.0 1081.0C2390.5 1079.7 2405.4 1078.4 2410.4 1077.8" fill="none" stroke="#ff4785" stroke-width="6.6" stroke-linecap="round" stroke-linejoin="round"/>
<text x="217.5" y="1067.6" text-anchor="end" class="ax">4800</text><text x="217.5" y="1207.3" text-anchor="end" class="ax">3600</text><text x="217.5" y="1347.0" text-anchor="end" class="ax">2400</text><text x="217.5" y="1486.6" text-anchor="end" class="ax">1200</text><text x="217.5" y="1626.0" text-anchor="end" class="ax">0</text>
<text x="351.2" y="1663.7" text-anchor="middle" class="ax">2024/09/29</text><text x="1021.6" y="1663.7" text-anchor="middle" class="ax">2024/10/28</text><text x="1691.5" y="1663.7" text-anchor="middle" class="ax">2024/11/26</text><text x="2361.8" y="1663.7" text-anchor="middle" class="ax">2024/12/25</text>
</g>
</svg>
</body></html>
